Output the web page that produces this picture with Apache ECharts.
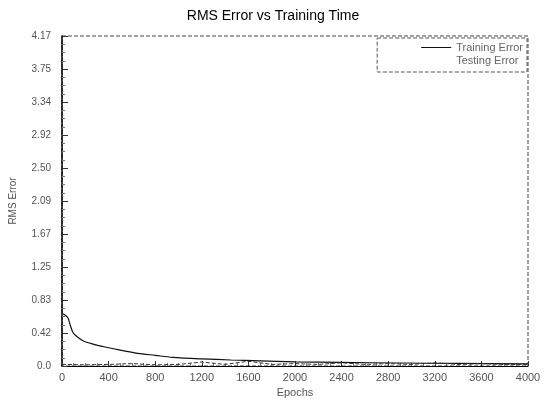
<!DOCTYPE html>
<html>
<head>
<meta charset="utf-8">
<script src="https://cdn.jsdelivr.net/npm/echarts@6/dist/echarts.min.js"></script>
<style>
  html, body { margin: 0; padding: 0; background: #fff; }
  #chart { width: 546px; height: 405px; }
</style>
</head>
<body>
<div id="chart"></div>
<script>
// values
const trainEpochs = [10, 50, 70, 95, 130, 180, 260, 370, 500, 650, 800, 950, 1200, 1450, 1700, 2000, 2400, 2900, 3400, 4000]
const trainError = [0.66, 0.61, 0.52, 0.42, 0.37, 0.32, 0.28, 0.24, 0.20, 0.16, 0.135, 0.11, 0.09, 0.076, 0.065, 0.053, 0.045, 0.038, 0.032, 0.026]

const testEpochs = [0, 200, 400, 600, 800, 1000, 1200, 1400, 1600, 1800, 2000, 2200, 2400, 2600, 2800, 3000, 3200, 3400, 3600, 3800, 4000]
const testError = [0.02, 0.015, 0.02, 0.03, 0.015, 0.02, 0.05, 0.02, 0.06, 0.02, 0.03, 0.02, 0.04, 0.02, 0.03, 0.02, 0.04, 0.02, 0.03, 0.02, 0.02]

const yTickLabels = ["0.0", "0.42", "0.83", "1.25", "1.67", "2.09", "2.50", "2.92", "3.34", "3.75", "4.17"]
const xTickLabels = ["0", "400", "800", "1200", "1600", "2000", "2400", "2800", "3200", "3600", "4000"]

const yStep = 0.417
const font = "Liberation Sans, Arial, sans-serif"

const chart = echarts.init(document.getElementById("chart"))

chart.setOption({
  animation: false,
  backgroundColor: "#fff",
  title: {
    text: "RMS Error vs Training Time",
    left: "center",
    top: 4,
    textStyle: { fontFamily: font, fontSize: 14, fontWeight: "normal", color: "#000" }
  },
  legend: {
    right: 19,
    top: 38,
    orient: "vertical",
    itemGap: 2,
    itemWidth: 30,
    itemHeight: 8,
    padding: [4, 4, 6, 44],
    borderColor: "#555",
    borderWidth: 1,
    borderType: "dashed",
    textStyle: { fontFamily: font, fontSize: 11, color: "#666" },
    data: [
      { name: "Training Error", icon: "path://M0,4L30,4L30,5L0,5Z" },
      { name: "Testing Error", icon: "none" }
    ]
  },
  grid: {
    left: 62,
    right: 18,
    top: 36,
    bottom: 39,
    show: true,
    borderColor: "#444",
    borderWidth: 1,
    borderType: "dashed"
  },
  xAxis: {
    type: "value",
    min: 0,
    max: 4000,
    interval: 400,
    name: "Epochs",
    nameLocation: "middle",
    nameGap: 18,
    nameTextStyle: { fontFamily: font, fontSize: 11, color: "#555" },
    axisLine: { lineStyle: { color: "#000", width: 1 } },
    axisTick: { inside: true, length: 5, lineStyle: { color: "#333" } },
    minorTick: { show: true, splitNumber: 4, length: 3, lineStyle: { color: "#777" } },
    splitLine: { show: false },
    axisLabel: {
      fontFamily: font,
      fontSize: 11,
      color: "#555",
      margin: 6,
      formatter: (v) => xTickLabels[Math.round(v / 400)]
    }
  },
  yAxis: {
    type: "value",
    min: 0,
    max: 4.17,
    interval: yStep,
    name: "RMS Error",
    nameLocation: "middle",
    nameGap: 44,
    nameTextStyle: { fontFamily: font, fontSize: 10, color: "#555" },
    axisLine: { show: true, lineStyle: { color: "#000", width: 1.5 } },
    axisTick: { show: true, inside: true, length: 6, lineStyle: { color: "#333" } },
    minorTick: { show: true, splitNumber: 4, length: 3, lineStyle: { color: "#777" } },
    splitLine: { show: false },
    axisLabel: {
      fontFamily: font,
      fontSize: 10,
      color: "#555",
      margin: 11,
      formatter: (v) => yTickLabels[Math.round(v / yStep)]
    }
  },
  series: [
    {
      name: "Training Error",
      type: "line",
      smooth: 0.3,
      symbol: "none",
      lineStyle: { color: "#111", width: 1.2 },
      itemStyle: { color: "#111" },
      data: trainEpochs.map((e, i) => [e, trainError[i]])
    },
    {
      name: "Testing Error",
      type: "line",
      symbol: "none",
      lineStyle: { color: "#333", width: 1, type: "dashed" },
      itemStyle: { color: "#333" },
      data: testEpochs.map((e, i) => [e, testError[i]])
    }
  ]
})
</script>
</body>
</html>
